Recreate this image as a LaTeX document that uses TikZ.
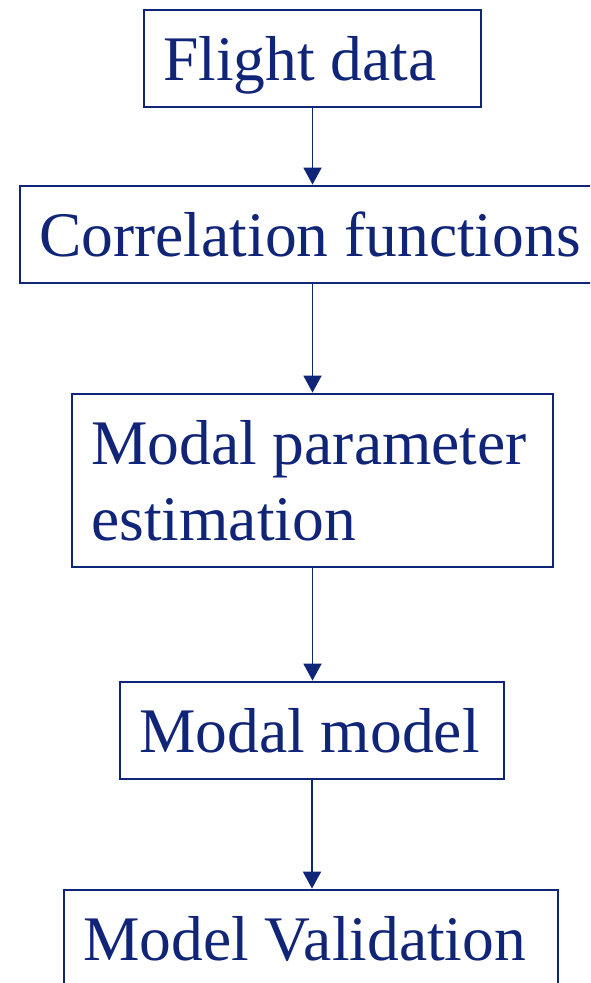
\documentclass[tikz,border=0pt]{standalone}
\usepackage{fontspec}
\setmainfont{Liberation Serif}
\usetikzlibrary{arrows.meta}
\definecolor{navy}{RGB}{16,36,120}
\begin{document}
\begin{tikzpicture}[x=1pt,y=-1pt,
  box/.style={draw=navy,line width=2.8pt,inner sep=0pt},
  txt/.style={text=navy,inner sep=0pt,anchor=base west,align=left,
              font=\fontsize{63.5}{76}\selectfont},
  flow/.style={draw=navy,line width=1.8pt,-{Triangle[width=18pt,length=17pt]}}]
\useasboundingbox (0,0) rectangle (590,983);
\clip (0,0) rectangle (590,983);

% process boxes
\node[box,minimum width=337pt,minimum height=97pt]  (fd) at (312.5,58.5)  {};
\node[box,minimum width=586pt,minimum height=97pt]  (cf) at (313,234.5)   {};
\node[box,minimum width=481pt,minimum height=173pt] (mp) at (312.5,480.5) {};
\node[box,minimum width=384pt,minimum height=97pt]  (mm) at (312,730.5)   {};
\node[box,minimum width=494pt,minimum height=97pt]  (mv) at (311,938.5)   {};

% box captions, left aligned; base anchor sits on the last baseline
\node[txt] (fdt) at ([xshift=20.5pt,yshift=-72pt]fd.north west) {Flight data};
\node[txt] (cft) at ([xshift=20.5pt,yshift=-72pt]cf.north west) {Correlation functions};
\node[txt] (mpt) at ([xshift=20.5pt,yshift=-148pt]mp.north west) {Modal parameter\\estimation};
\node[txt] (mmt) at ([xshift=20.5pt,yshift=-72pt]mm.north west) {Modal model};
\node[txt] (mvt) at ([xshift=20.5pt,yshift=-72pt]mv.north west) {Model Validation};

% flow arrows
\draw[flow] (fd.south) -- (fd.south |- cf.north);
\draw[flow] (cf.south -| fd.south) -- (fd.south |- mp.north);
\draw[flow] (mp.south) -- (mp.south |- mm.north);
\draw[flow] (mm.south) -- (mm.south |- mv.north);
\end{tikzpicture}
\end{document}
